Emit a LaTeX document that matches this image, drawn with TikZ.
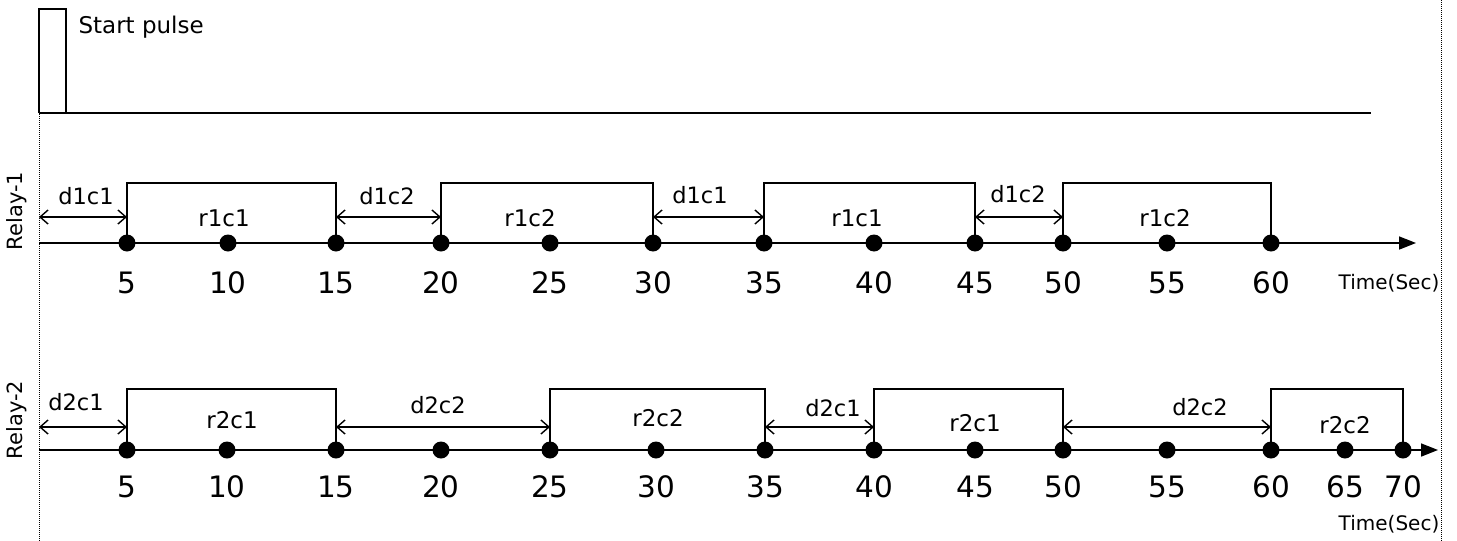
\documentclass[tikz,border=0pt]{standalone}
\usepackage{fontspec}
\setmainfont{DejaVu Sans}
\usetikzlibrary{arrows.meta}
\begin{document}
\begin{tikzpicture}[x=1pt,y=-1pt,
  dot/.style={circle,fill=black,inner sep=0pt,minimum size=17pt},
  axisline/.style={line width=1.7pt,-{Triangle[length=17pt,width=13pt]}},
  pulse/.style={line width=1.2pt},
  gap/.style={line width=1.4pt,{Straight Barb[length=8pt,width=14pt]}-{Straight Barb[length=8pt,width=14pt]}},
  guide/.style={densely dotted,line width=1pt},
  dlab/.style={font=\fontsize{22.5}{23}\selectfont},
  rlab/.style={font=\fontsize{23}{23}\selectfont},
  num/.style={font=\fontsize{29.5}{30}\selectfont},
  tlab/.style={font=\fontsize{20}{20}\selectfont},
  ylab/.style={font=\fontsize{21}{21}\selectfont,rotate=90}]
\useasboundingbox (0,0) rectangle (1457,541);
% guides
\coordinate (gLtop) at (39,90);
\coordinate (gLbot) at (39,541);
\coordinate (gRtop) at (1441,0);
\coordinate (gRbot) at (1441,541);
\draw[guide] (gLtop) -- (gLbot);
\draw[guide] (gRtop) -- (gRbot);
% start pulse
\coordinate (s0) at (39,113);
\coordinate (s1) at (66,113);
\coordinate (sEnd) at (1371,113);
\draw[pulse] (s0) -- (39,9) -| (s1);
\draw[line width=1.6pt] (s0) -- (sEnd);
\node[font=\fontsize{23}{23}\selectfont,anchor=west] (startlab) at (75,27) {Start pulse};
% Relay-1
\coordinate (r1s) at (39,243);
\coordinate (r1e) at (1416,243);
\draw[axisline] (r1s) -- (r1e);
\foreach \v/\x in {5/127,10/228,15/336,20/441,25/550,30/653,35/764,40/874,45/975,50/1063,55/1167,60/1271}{
  \node[dot] (a\v) at (\x,243) {};
  \node[num] (na\v) at (\x,283) {\v};
}
\node[tlab] (ta) at (1389,283) {Time(Sec)};
\node[ylab] (y1) at (17,211) {Relay-1};
\foreach \p/\q in {5/15,20/30,35/45,50/60}{
  \draw[pulse] (a\p.center) -- (a\p.center |- 0,183) -| (a\q.center);
}
\coordinate (ga0) at (39,217);
\foreach \p/\q in {0/5,15/20,30/35,45/50}{
  \ifnum\p=0\else\coordinate (ga\p) at (a\p.center |- 0,217);\fi
  \coordinate (gb\q) at (a\q.center |- 0,217);
}
\draw[gap] (ga0) -- (gb5);
\draw[gap] (ga15) -- (gb20);
\draw[gap] (ga30) -- (gb35);
\draw[gap] (ga45) -- (gb50);
\node[dlab] (d11) at (86,196) {d1c1};
\node[dlab] (d12) at (387,196) {d1c2};
\node[dlab] (d13) at (700,195) {d1c1};
\node[dlab] (d14) at (1018,194) {d1c2};
\node[rlab] (p11) at (224,218) {r1c1};
\node[rlab] (p12) at (530,218) {r1c2};
\node[rlab] (p13) at (857,218) {r1c1};
\node[rlab] (p14) at (1165,218) {r1c2};
% Relay-2
\coordinate (r2s) at (39,450);
\coordinate (r2e) at (1438,450);
\draw[axisline] (r2s) -- (r2e);
\foreach \v/\x in {5/127,10/227,15/336,20/441,25/550,30/656,35/765,40/874,45/975,50/1063,55/1167,60/1271,65/1345,70/1403}{
  \node[dot] (b\v) at (\x,450) {};
  \node[num] (nb\v) at (\x,487) {\v};
}
\node[tlab] (tb) at (1389,524) {Time(Sec)};
\node[ylab] (y2) at (17,420) {Relay-2};
\foreach \p/\q in {5/15,25/35,40/50,60/70}{
  \draw[pulse] (b\p.center) -- (b\p.center |- 0,389) -| (b\q.center);
}
\coordinate (hb0) at (39,427);
\foreach \p/\q in {15/25,35/40,50/60}{
  \coordinate (ha\p) at (b\p.center |- 0,427);
  \coordinate (hb\q) at (b\q.center |- 0,427);
}
\coordinate (hb5) at (b5.center |- 0,427);
\draw[gap] (hb0) -- (hb5);
\draw[gap] (ha15) -- (hb25);
\draw[gap] (ha35) -- (hb40);
\draw[gap] (ha50) -- (hb60);
\node[dlab] (d21) at (76,402) {d2c1};
\node[dlab] (d22) at (438,405) {d2c2};
\node[dlab] (d23) at (833,408) {d2c1};
\node[dlab] (d24) at (1200,407) {d2c2};
\node[rlab] (p21) at (232,420) {r2c1};
\node[rlab] (p22) at (658,418) {r2c2};
\node[rlab] (p23) at (975,423) {r2c1};
\node[rlab] (p24) at (1345,425) {r2c2};
\end{tikzpicture}
\end{document}
